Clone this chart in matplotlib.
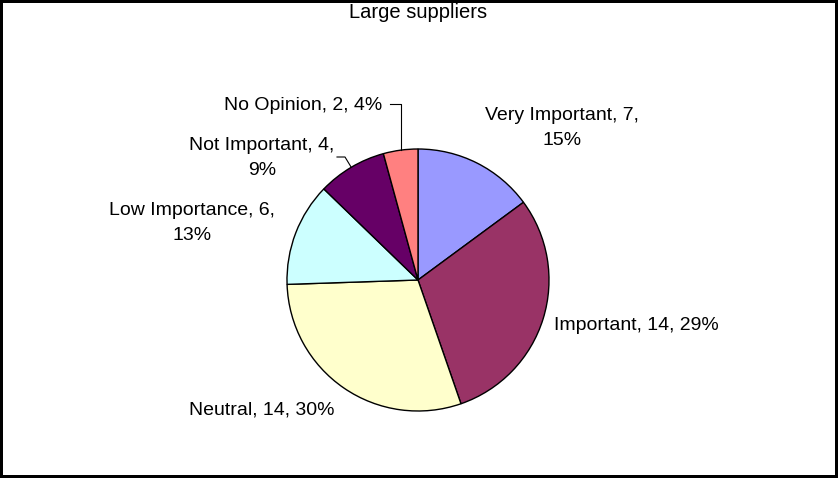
import numpy as np
import matplotlib
matplotlib.use('Agg')
import matplotlib.pyplot as plt

categories = ['Very Important', 'Important', 'Neutral', 'Low Importance', 'Not Important', 'No Opinion']
counts = [7, 14, 14, 6, 4, 2]
pct_labels = ['15%', '29%', '30%', '13%', '9%', '4%']
colors = ['#9999FF', '#993366', '#FFFFCC', '#CCFFFF', '#660066', '#FF8080']

plt.rcParams['font.family'] = ['Liberation Sans', 'DejaVu Sans']

W, H = 838, 478
cx, cy, R = 418, 280, 131  # pie centre / radius in pixels

fig = plt.figure(figsize=(W / 100, H / 100), dpi=100)
fig.patch.set_edgecolor('black')
fig.patch.set_linewidth(3)
ax = fig.add_axes([0, 0, 1, 1])

wedges, _ = ax.pie(counts, colors=colors, startangle=90, counterclock=False,
                   wedgeprops=dict(edgecolor='black', linewidth=1))
ax.set_xlim(-cx / R, (W - cx) / R)
ax.set_ylim(-(H - cy) / R, cy / R)
ax.set_aspect('equal')
ax.axis('off')


def px(x, y):
    return (x - cx) / R, (cy - y) / R


labels = ['{}, {},\n{}'.format(c, n, p) if c in ('Very Important', 'Low Importance', 'Not Important')
          else '{}, {}, {}'.format(c, n, p)
          for c, n, p in zip(categories, counts, pct_labels)]
label_pos = [(562, 128), (636, 326), (262, 410), (192, 223), (262, 158), (303, 106)]
for lab, (x, y) in zip(labels, label_pos):
    ax.text(*px(x, y), lab, ha='center', va='center', fontsize=14, linespacing=1.65)

# leader lines for the two small slices
cum = np.cumsum(counts)
total = cum[-1]
for i, (tx, ty) in [(4, (337, 157)), (5, (390, 104))]:
    mid = (cum[i] - counts[i] / 2) / total * 2 * np.pi
    ex, ey = np.sin(mid), np.cos(mid)
    sx, sy = px(tx, ty)
    kx = sx + 8 / R
    if i == 5:
        kx = ex
    ax.plot([sx, kx, ex], [sy, sy, ey], color='black', linewidth=0.8)

ax.text(*px(418, 12), 'Large suppliers', ha='center', va='center', fontsize=14.5)

fig.savefig('out.png', dpi=100, edgecolor=fig.get_edgecolor())
